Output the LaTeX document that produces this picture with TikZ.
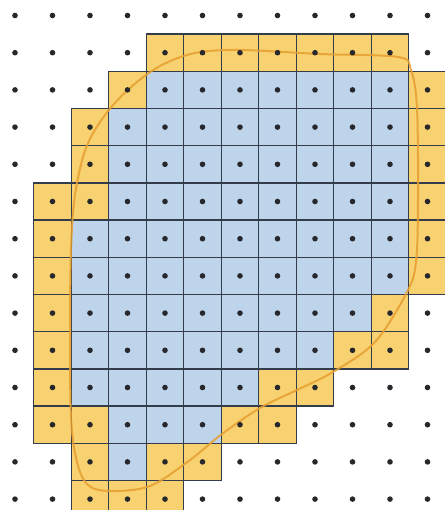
\documentclass[tikz,border=0pt]{standalone}
\begin{document}
\begin{tikzpicture}[x=1pt,y=-1pt,
  cellbox/.style={draw=gridc, line width=1.4pt},
  ycell/.style={cellbox, fill=cellY},
  bcell/.style={cellbox, fill=cellB},
  dotc/.style={fill=dotcol},
  outline/.style={draw=curvec, line width=2pt, opacity=0.85, line join=round}]
\definecolor{cellY}{RGB}{248,210,112}
\definecolor{cellB}{RGB}{190,212,235}
\definecolor{gridc}{RGB}{50,60,74}
\definecolor{curvec}{RGB}{230,158,48}
\definecolor{dotcol}{RGB}{40,40,44}
\useasboundingbox (0,0) rectangle (444,510);
\fill[white] (0,0) rectangle (444,510);
% blue cells: row / first col / last col
\foreach \j/\a/\b in {2/4/10,3/3/10,4/3/10,5/3/10,6/2/10,7/2/10,8/2/9,9/2/8,10/2/6,11/3/5,12/3/3}{
  \foreach \i in {\a,...,\b}{
    \path[bcell] ({15+37.5*\i-18.75},{15.5+37.2*\j-18.6}) rectangle ++(37.5,37.2);
  }
}
% yellow cells
\foreach \i/\j in {4/1,5/1,6/1,7/1,8/1,9/1,10/1,
  3/2,11/2, 2/3,11/3, 2/4,11/4, 1/5,2/5,11/5, 1/6,11/6, 1/7,11/7,
  1/8,10/8, 1/9,9/9,10/9, 1/10,7/10,8/10, 1/11,2/11,6/11,7/11,
  2/12,4/12,5/12, 2/13,3/13,4/13}{
  \path[ycell] ({15+37.5*\i-18.75},{15.5+37.2*\j-18.6}) rectangle ++(37.5,37.2);
}
% outline curve
\draw[outline] plot[smooth cycle, tension=0.55] coordinates {
 (71,417) (70,330) (71,250) (75,195) (86,148) (105,115) (130,88) (160,66)
 (195,53) (240,50) (320,54) (398,57) (411,70) (417,108) (418,200) (416,262)
 (407,292) (375,342) (333,372) (297,390) (260,408) (222,434) (190,460)
 (150,486) (110,491) (88,485) (77,462)};
% dots
\foreach \i in {0,...,11}{
  \foreach \j in {0,...,13}{
    \fill[dotc] ({15+37.5*\i},{15.5+37.2*\j}) circle (2.8);
  }
}
\end{tikzpicture}
\end{document}
